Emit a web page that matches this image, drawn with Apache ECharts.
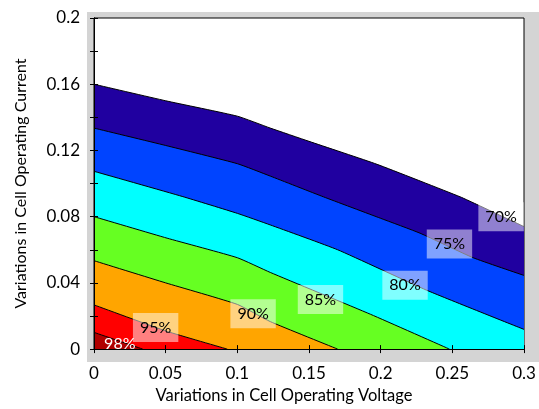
<!DOCTYPE html>
<html>
<head>
<meta charset="utf-8">
<script src="https://cdn.jsdelivr.net/npm/echarts@6/dist/echarts.min.js"></script>
<style>
    html, body {margin: 0; padding: 0; background: #fff;}
    #chart {width: 539px; height: 409px;}
</style>
</head>
<body>
<div id="chart"></div>
<script>
// contour boundaries [voltage, current], top edge of each band
const line70 = [[0, 0.160], [0.05, 0.150], [0.1, 0.1407], [0.123, 0.1335], [0.15, 0.1255], [0.1975, 0.1116], [0.2554, 0.092], [0.268, 0.087], [0.3, 0.074]];
const line75 = [[0, 0.1335], [0.05, 0.123], [0.1, 0.112], [0.123, 0.1045], [0.16, 0.092], [0.2, 0.079], [0.2275, 0.070], [0.2645, 0.0552], [0.3, 0.0445]];
const line80 = [[0, 0.1074], [0.062, 0.0921], [0.1, 0.082], [0.123, 0.075], [0.17, 0.060], [0.232, 0.0356], [0.3, 0.0119]];
const line85 = [[0, 0.080], [0.051, 0.067], [0.1, 0.0552], [0.123, 0.0463], [0.193, 0.021], [0.248, 0]];
const line90 = [[0, 0.0534], [0.05, 0.040], [0.1, 0.027], [0.123, 0.0166], [0.17, 0]];
const line95 = [[0, 0.0267], [0.051, 0.0107], [0.093, 0]];
const line98 = [[0, 0.0101], [0.034, 0]];

const bandLines = [line70, line75, line80, line85, line90, line95, line98];
const bandColors = ['#2000a0', '#0044ff', '#00ffff', '#66ff22', '#ffa500', '#ff0000', '#b00000'];

// contour labels, boxed ones then the last (white, unboxed) one
const labelNames = ['70%', '75%', '80%', '85%', '90%', '95%'];
const labelPoints = [[0.284, 0.080], [0.248, 0.0635], [0.217, 0.0386], [0.158, 0.030], [0.111, 0.0214], [0.043, 0.013]];
const innerLabelName = '98%';
const innerLabelPoint = [0.018, 0.003];

const font = 'Lato, "Open Sans", sans-serif';
const chart = echarts.init(document.getElementById('chart'));

const bandSeries = bandLines.map((pts, i) => ({
    type: 'line',
    data: pts,
    symbol: 'none',
    smooth: 0.15,
    silent: true,
    lineStyle: {color: '#000', width: 1},
    areaStyle: {color: bandColors[i], opacity: 1},
    z: 2,
}));

const boxedLabels = {
    type: 'scatter',
    symbol: 'rect',
    symbolSize: 1,
    itemStyle: {color: 'transparent', opacity: 1},
    silent: true,
    z: 5,
    data: labelPoints,
    label: {
        show: true,
        position: 'inside',
        formatter: p => labelNames[p.dataIndex],
        fontFamily: font,
        fontSize: 16,
        color: '#000',
        opacity: 1,
        textBorderWidth: 0,
        backgroundColor: 'rgba(255,255,255,0.5)',
        padding: [7, 7, 6, 7],
    },
};

const plainLabel = {
    type: 'scatter',
    symbol: 'rect',
    symbolSize: 1,
    itemStyle: {color: 'transparent', opacity: 1},
    silent: true,
    z: 5,
    data: [innerLabelPoint],
    label: {
        show: true,
        position: 'inside',
        formatter: innerLabelName,
        fontFamily: font,
        fontSize: 16,
        color: '#fff',
        opacity: 1,
        textBorderWidth: 0,
    },
};

const yLabel = v => {
    const k = Math.round(v * 100);
    if (k % 4 !== 0) return '';
    return k === 0 ? '0' : String(+(v.toFixed(2)));
};

chart.setOption({
    animation: false,
    backgroundColor: '#fff',
    graphic: [{
        type: 'rect',
        shape: {x: 87, y: 12, width: 452, height: 350},
        style: {fill: '#d4d4d4'},
        z: -10,
    }],
    grid: {
        left: 94, right: 15, top: 18, bottom: 54,
        show: true, backgroundColor: '#fff', borderColor: '#000', borderWidth: 1,
    },
    xAxis: [{
        type: 'value', min: 0, max: 0.3, interval: 0.05,
        name: 'Variations in Cell Operating Voltage',
        nameLocation: 'middle', nameGap: 36,
        nameTextStyle: {fontFamily: font, fontSize: 16.5, color: '#000', padding: [0, 50, 0, 0]},
        axisLine: {show: true, lineStyle: {color: '#000'}},
        axisTick: {show: true, inside: true, length: 4, lineStyle: {color: '#000'}},
        axisLabel: {fontFamily: font, fontSize: 17, color: '#000', margin: 16,
            formatter: v => v === 0 ? '0' : String(+(v.toFixed(2)))},
        splitLine: {show: false},
        z: 10,
    }, {
        type: 'value', position: 'top', min: 0, max: 0.3, interval: 0.05,
        axisLine: {show: true, lineStyle: {color: '#000'}},
        axisTick: {show: true, inside: true, length: 4, lineStyle: {color: '#000'}},
        axisLabel: {show: false},
        splitLine: {show: false},
        z: 10,
    }],
    yAxis: [{
        type: 'value', min: 0, max: 0.2, interval: 0.02,
        name: 'Variations in Cell Operating Current',
        nameLocation: 'middle', nameGap: 65,
        nameTextStyle: {fontFamily: font, fontSize: 16, color: '#000'},
        axisLine: {show: true, lineStyle: {color: '#000'}},
        axisTick: {show: true, inside: true, length: 4, lineStyle: {color: '#000'}},
        axisLabel: {fontFamily: font, fontSize: 17, color: '#000', margin: 14, formatter: yLabel},
        splitLine: {show: false},
        z: 10,
    }, {
        type: 'value', position: 'right', min: 0, max: 0.2, interval: 0.02,
        axisLine: {show: true, lineStyle: {color: '#000'}},
        axisTick: {show: true, inside: true, length: 4, lineStyle: {color: '#000'}},
        axisLabel: {show: false},
        splitLine: {show: false},
        z: 10,
    }],
    series: [...bandSeries, boxedLabels, plainLabel],
});
</script>
</body>
</html>
